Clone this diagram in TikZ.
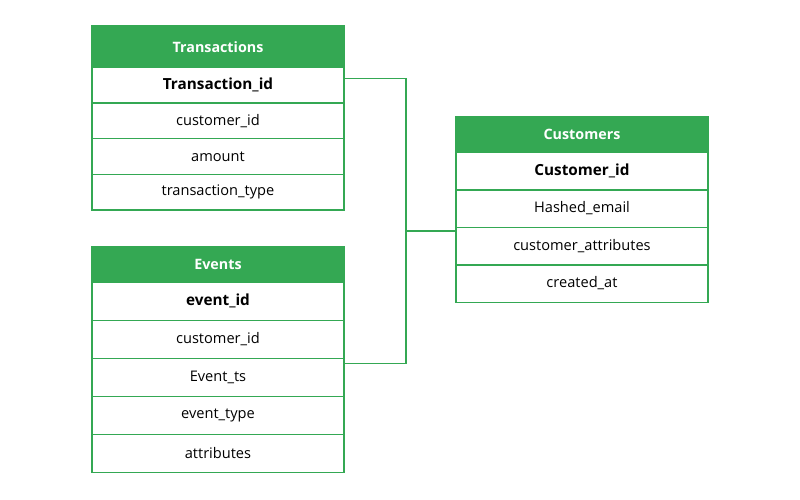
\documentclass[tikz,border=0pt]{standalone}
\usepackage{fontspec}
\setmainfont{Open Sans}
\usetikzlibrary{positioning}
\definecolor{tblgreen}{HTML}{34A853}

\tikzset{
  tblhead/.style={draw=tblgreen,fill=tblgreen,text=white,line width=1.5pt,
    minimum width=252pt,inner sep=0pt,outer sep=0pt,
    font=\fontsize{14.3}{16}\selectfont\bfseries},
  tblrow/.style={draw=tblgreen,fill=white,line width=1.5pt,
    minimum width=252pt,inner sep=0pt,outer sep=0pt,
    font=\fontsize{14.6}{16}\selectfont},
  tblkey/.style={tblrow,font=\fontsize{15.3}{17}\selectfont\bfseries},
  link/.style={draw=tblgreen,line width=1.5pt}
}

\begin{document}
\begin{tikzpicture}[x=1pt,y=-1pt,node distance=0pt]
	\useasboundingbox (0,0) rectangle (800,500);

	% Transactions
	\node[tblhead,minimum height=41.3pt,anchor=north west] (trans) at (92,26) {Transactions};
	\node[tblkey,minimum height=35.7pt,below=of trans] (trans1) {Transaction\_id};
	\node[tblrow,minimum height=35.7pt,below=of trans1] (trans2) {customer\_id};
	\node[tblrow,minimum height=35.7pt,below=of trans2] (trans3) {amount};
	\node[tblrow,minimum height=35.7pt,below=of trans3] (trans4) {transaction\_type};

	% Events
	\node[tblhead,minimum height=35.6pt,anchor=north west] (evt) at (92,246.7) {Events};
	\node[tblkey,minimum height=38pt,below=of evt] (evt1) {event\_id};
	\node[tblrow,minimum height=38pt,below=of evt1] (evt2) {customer\_id};
	\node[tblrow,minimum height=38pt,below=of evt2] (evt3) {Event\_ts};
	\node[tblrow,minimum height=38pt,below=of evt3] (evt4) {event\_type};
	\node[tblrow,minimum height=38pt,below=of evt4] (evt5) {attributes};

	% Customers
	\node[tblhead,minimum height=35.6pt,anchor=north west] (cust) at (456,116.7) {Customers};
	\node[tblkey,minimum height=37.5pt,below=of cust] (cust1) {Customer\_id};
	\node[tblrow,minimum height=37.5pt,below=of cust1] (cust2) {Hashed\_email};
	\node[tblrow,minimum height=37.5pt,below=of cust2] (cust3) {customer\_attributes};
	\node[tblrow,minimum height=37.5pt,below=of cust3] (cust4) {created\_at};

	% links
	\coordinate (bustop) at (406,78.5);
	\coordinate (busmid) at (406,231);
	\coordinate (busbot) at (406,363.5);
	\draw[link] (trans1.east |- bustop) -- (bustop) -- (busbot) -- (evt3.east |- busbot);
	\draw[link] (busmid) -- (cust3.west |- busmid);
\end{tikzpicture}
\end{document}
